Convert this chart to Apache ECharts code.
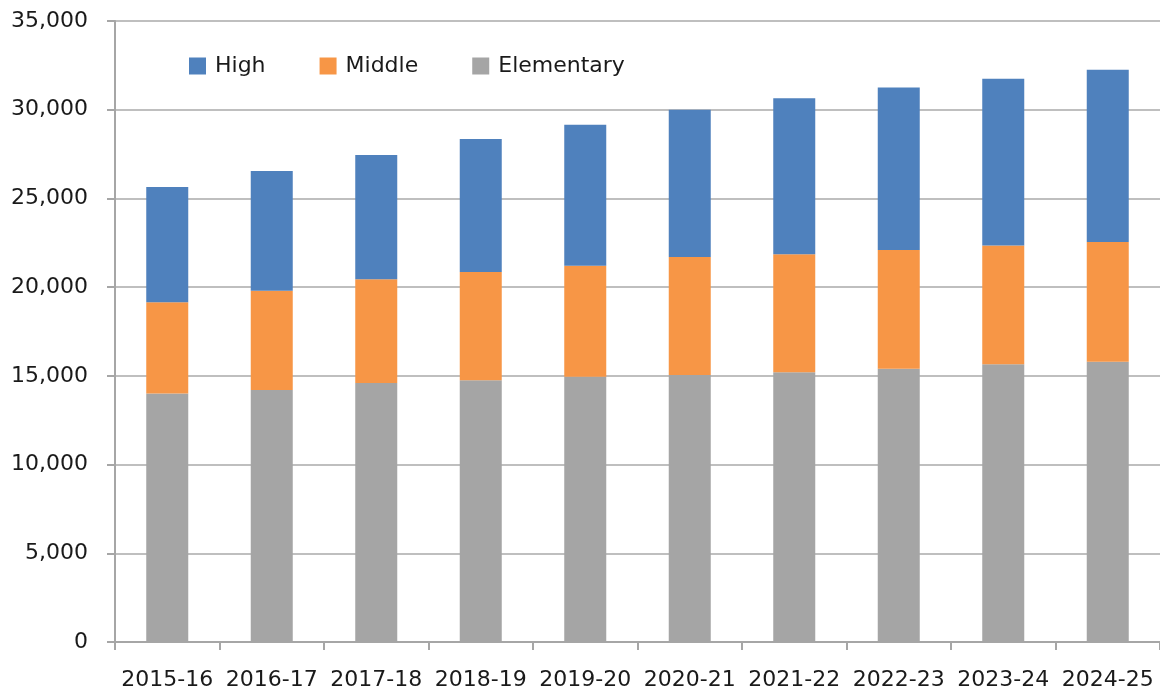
<!DOCTYPE html>
<html>
<head>
<meta charset="utf-8">
<script src="https://cdn.jsdelivr.net/npm/echarts@6/dist/echarts.min.js"></script>
<style>
html,body{margin:0;padding:0;background:#fff;}
#chart{width:1160px;height:694px;}
</style>
</head>
<body>
<div id="chart"></div>
<script>
const categories = ['2015-16','2016-17','2017-18','2018-19','2019-20','2020-21','2021-22','2022-23','2023-24','2024-25'];
const elementary = [14000, 14200, 14600, 14750, 14950, 15050, 15200, 15400, 15650, 15800];
const middleTop  = [19150, 19800, 20450, 20850, 21200, 21700, 21850, 22100, 22350, 22550];
const highTop    = [25650, 26550, 27450, 28350, 29150, 30000, 30650, 31250, 31750, 32250];
const middle = middleTop.map((v, i) => v - elementary[i]);
const high = highTop.map((v, i) => v - middleTop[i]);
const legendNames = ['High', 'Middle', 'Elementary'];

const FONT = 'DejaVu Sans';
const chart = echarts.init(document.getElementById('chart'), null, {renderer: 'canvas'});
chart.setOption({
  animation: false,
  backgroundColor: '#fff',
  grid: {left: 115, top: 21, right: -7, bottom: 52, containLabel: false},
  legend: {
    data: legendNames,
    left: 184, top: 50,
    itemWidth: 17, itemHeight: 17, itemGap: 54,
    icon: 'rect',
    textStyle: {fontFamily: FONT, fontSize: 22, color: '#1a1a1a', padding: [0, 0, 0, 4]}
  },
  xAxis: {
    type: 'category',
    data: categories,
    axisLine: {lineStyle: {color: '#A6A6A6', width: 2}},
    axisTick: {show: true, alignWithLabel: false, length: 8, lineStyle: {color: '#A6A6A6', width: 2}},
    axisLabel: {fontFamily: FONT, fontSize: 22, color: '#1a1a1a', margin: 27, interval: 0}
  },
  yAxis: {
    type: 'value',
    min: 0, max: 35000, interval: 5000,
    axisLine: {show: true, lineStyle: {color: '#A6A6A6', width: 2}},
    axisTick: {show: true, length: 8, lineStyle: {color: '#A6A6A6', width: 2}},
    splitLine: {lineStyle: {color: '#BFBFBF', width: 2}},
    axisLabel: {fontFamily: FONT, fontSize: 22, color: '#1a1a1a', margin: 27,
      formatter: v => v.toLocaleString('en-US')}
  },
  series: [
    {name: 'Elementary', type: 'bar', stack: 'total', data: elementary, barWidth: 42, itemStyle: {color: '#A5A5A5'}},
    {name: 'Middle', type: 'bar', stack: 'total', data: middle, barWidth: 42, itemStyle: {color: '#F79646'}},
    {name: 'High', type: 'bar', stack: 'total', data: high, barWidth: 42, itemStyle: {color: '#4F81BD'}}
  ]
});
</script>
</body>
</html>
